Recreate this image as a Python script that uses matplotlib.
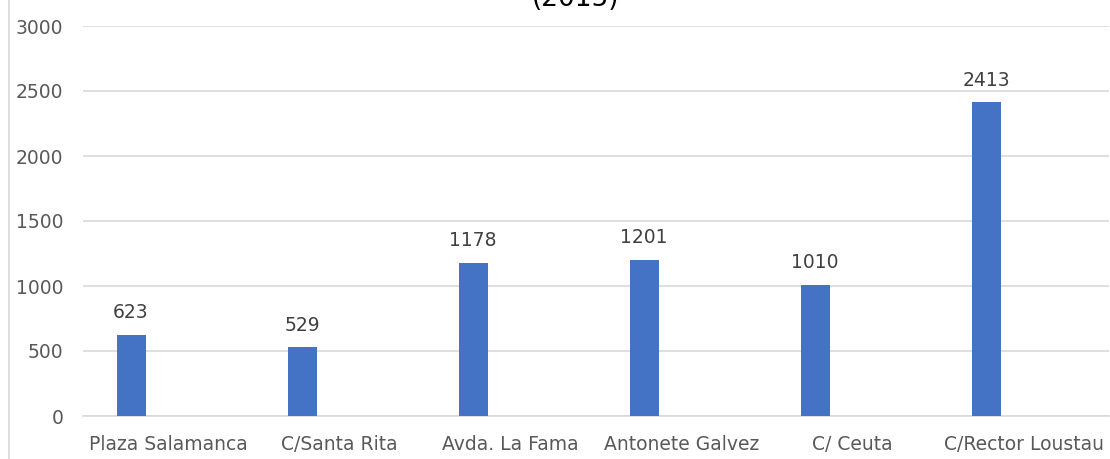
import matplotlib
matplotlib.use('Agg')
import matplotlib.pyplot as plt
import numpy as np
from matplotlib.lines import Line2D

# data
streets = ['Plaza Salamanca', 'C/Santa Rita', 'Avda. La Fama',
           'Antonete Galvez', 'C/ Ceuta', 'C/Rector Loustau']
values = [623, 529, 1178, 1201, 1010, 2413]
yticks = [0, 500, 1000, 1500, 2000, 2500, 3000]

plt.rcParams['font.family'] = ['DejaVu Sans']

fig = plt.figure(figsize=(11.1, 4.59), dpi=100)
ax = fig.add_axes([83 / 1110, 43 / 459, 1026 / 1110, 390 / 459])

x = np.arange(len(streets))
bar_w = 29 / 171
offset = -37.5 / 171
ax.bar(x + offset, values, width=bar_w, color='#4472C4', zorder=3)

for xi, v in zip(x, values):
    ax.annotate(str(v), xy=(xi + offset, v), xytext=(0, 12), textcoords='offset points',
                ha='center', va='baseline', fontsize=13.5, color='#404040')

ax.set_xlim(-0.5, len(streets) - 0.5)
ax.set_ylim(0, 3000)
ax.set_yticks(yticks)
ax.set_xticks(x)
ax.set_xticklabels(streets)
ax.tick_params(axis='both', length=0, labelsize=13.5, labelcolor='#595959')
ax.tick_params(axis='y', pad=14)
ax.tick_params(axis='x', pad=14)
ax.grid(axis='y', color='#d9d9d9', linewidth=1.2, zorder=0)
for s in ['top', 'right', 'left']:
    ax.spines[s].set_visible(False)
ax.spines['bottom'].set_color('#d9d9d9')
ax.spines['bottom'].set_linewidth(1.2)

# title is cut off at the top of the picture
fig.text(576 / 1110, 1 - 6 / 459, '(2015)', ha='center', va='baseline',
         fontsize=19, color='#000000')

# chart frame edge on the left
fig.add_artist(Line2D([9 / 1110, 9 / 1110], [0, 1], transform=fig.transFigure,
                      color='#d9d9d9', linewidth=1.2))

plt.savefig('out.png', dpi=100)
